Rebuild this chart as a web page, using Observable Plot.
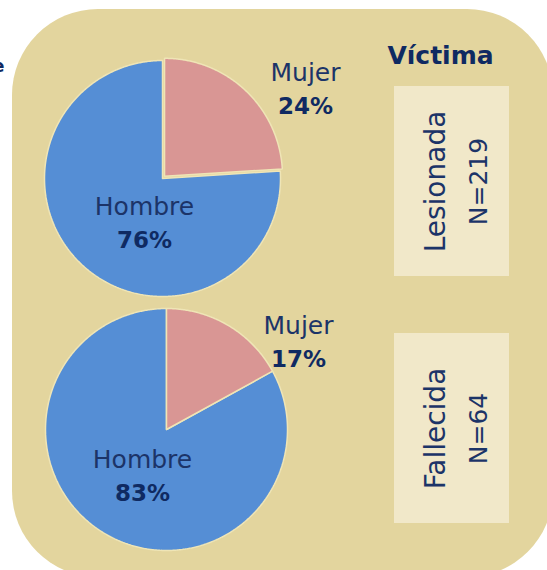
<!DOCTYPE html>
<html>
<head>
<meta charset="utf-8">
<script src="https://cdn.jsdelivr.net/npm/d3@7"></script>
<script src="https://cdn.jsdelivr.net/npm/@observablehq/plot@0.6"></script>
<style>
  html, body { margin: 0; padding: 0; background: #ffffff; }
  #chart svg { display: block; }
</style>
</head>
<body>
<div id="chart"></div>
<script>
// ---- data ----
const title = "Víctima";
const groups = ["Lesionada", "Fallecida"];
const counts = [219, 64];
const sexes = ["Mujer", "Hombre"];
const mujerPct = [24, 17];
const hombrePct = [76, 83];
const fragment = "e";

// ---- layout / style (not data) ----
const W = 547, H = 570;
const FONT = "DejaVu Sans, sans-serif";
const NAVY = "#1C3468";
const NAVY_BOLD = "#0F2A62";
const PANEL = "#E3D59E";
const BOX = "#F1E8C9";
const SEP = "#EFE5B6";
const sexColor = {Mujer: "#D99694", Hombre: "#558ED5"};
const panel = {x1: 12, x2: 553, y1: 9, y2: 577, r: 86};
const boxLayout = [{x1: 394, x2: 509, y1: 86, y2: 276}, {x1: 394, x2: 509, y1: 333, y2: 523}];
const pieLayout = [
  {cx: 162, cy: 178, r: 118, explode: 3, labels: {Mujer: [305, 80], Hombre: [144, 214]}},
  {cx: 166, cy: 429, r: 121, explode: 0, labels: {Mujer: [298, 333], Hombre: [142, 467]}}
];

// ---- build slice polygons from the values ----
const slicePts = [];
groups.forEach((g, gi) => {
  const L = pieLayout[gi];
  const vals = {Mujer: mujerPct[gi], Hombre: hombrePct[gi]};
  const total = vals.Mujer + vals.Hombre;
  let start = 0;
  sexes.forEach((s) => {
    const a0 = start / total * 2 * Math.PI;
    const a1 = (start + vals[s]) / total * 2 * Math.PI;
    start += vals[s];
    const mid = (a0 + a1) / 2;
    const off = s === "Mujer" ? L.explode : 0;
    const ox = L.cx + off * Math.sin(mid), oy = L.cy - off * Math.cos(mid);
    const id = g + "-" + s;
    slicePts.push({id, sex: s, x: ox, y: oy});
    const n = Math.max(2, Math.ceil((a1 - a0) / (Math.PI / 360)));
    for (let i = 0; i <= n; i++) {
      const a = a0 + (a1 - a0) * i / n;
      slicePts.push({id, sex: s, x: ox + L.r * Math.sin(a), y: oy - L.r * Math.cos(a)});
    }
    slicePts.push({id, sex: s, x: ox, y: oy});
  });
});

const labelRows = [];
groups.forEach((g, gi) => {
  const L = pieLayout[gi];
  sexes.forEach((s) => {
    const pct = s === "Mujer" ? mujerPct[gi] : hombrePct[gi];
    labelRows.push({name: s, pct, x: L.labels[s][0], y: L.labels[s][1]});
  });
});

const boxRows = groups.map((g, i) => ({group: g, n: counts[i], ...boxLayout[i]}));

const chart = Plot.plot({
  width: W,
  height: H,
  margin: 0,
  x: {domain: [0, W], range: [0, W], axis: null},
  y: {domain: [0, H], range: [0, H], axis: null},
  style: {background: "transparent", fontFamily: FONT},
  marks: [
    Plot.rect([panel], {x1: "x1", x2: "x2", y1: "y1", y2: "y2", fill: PANEL, rx: panel.r, ry: panel.r}),
    Plot.text([fragment], {x: 4, y: 66, text: d => d, textAnchor: "end", fontSize: 18, fontWeight: "bold", fill: NAVY_BOLD, fontFamily: FONT}),
    Plot.rect(boxRows, {x1: "x1", x2: "x2", y1: "y1", y2: "y2", fill: BOX}),
    Plot.line(slicePts.filter(d => d.sex === "Hombre"), {x: "x", y: "y", z: "id", fill: sexColor.Hombre, stroke: SEP, strokeWidth: 1.5, strokeLinejoin: "miter", curve: "linear"}),
    Plot.line(slicePts.filter(d => d.sex === "Mujer"), {x: "x", y: "y", z: "id", fill: sexColor.Mujer, stroke: SEP, strokeWidth: 1.5, strokeLinejoin: "miter", curve: "linear"}),
    Plot.text(labelRows, {x: "x", y: d => d.y - 0.32 * 25, text: "name", fontSize: 25, fill: NAVY, fontFamily: FONT}),
    Plot.text(labelRows, {x: "x", y: d => d.y + 33 - 0.32 * 23, text: d => d.pct + "%", fontSize: 23, fontWeight: "bold", fill: NAVY_BOLD, fontFamily: FONT}),
    Plot.text([title], {x: 440, y: 63 - 0.32 * 25, text: d => d, fontSize: 25, fontWeight: "bold", fill: NAVY_BOLD, fontFamily: FONT}),
    Plot.text(boxRows, {x: d => d.x1 + 42, y: d => (d.y1 + d.y2) / 2, text: "group", rotate: -90, fontSize: 28, fill: NAVY, fontFamily: FONT}),
    Plot.text(boxRows, {x: d => d.x1 + 84, y: d => (d.y1 + d.y2) / 2, text: d => "N=" + d.n, rotate: -90, fontSize: 25, fill: NAVY, fontFamily: FONT})
  ]
});
document.getElementById("chart").appendChild(chart);
</script>
</body>
</html>
